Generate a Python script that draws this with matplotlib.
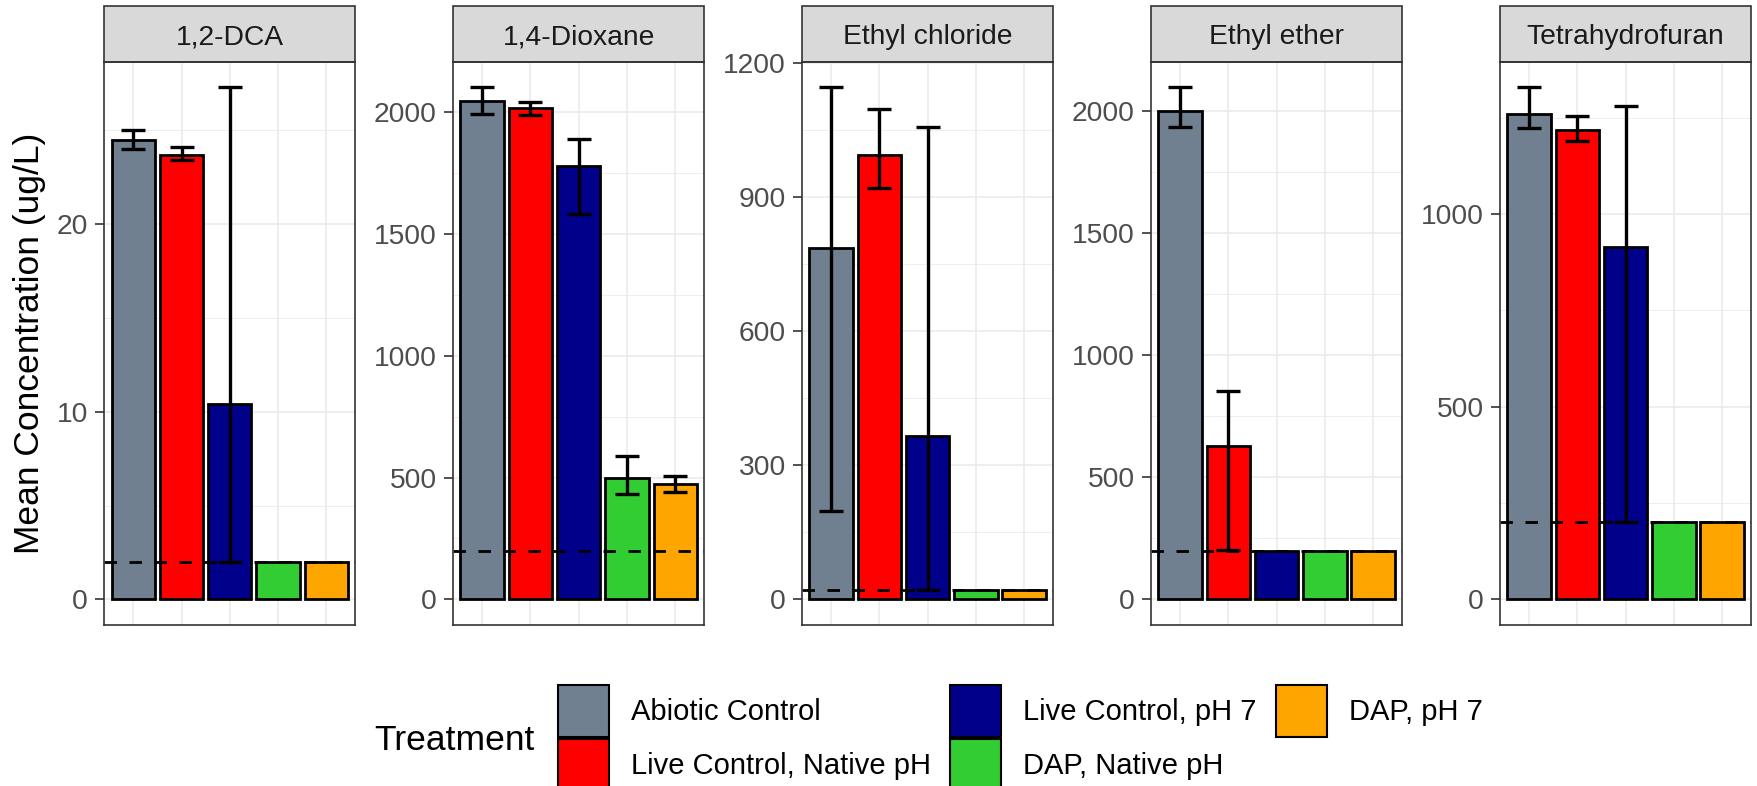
import numpy as np
import matplotlib.pyplot as plt
from matplotlib.patches import Patch, Rectangle
from matplotlib.ticker import MultipleLocator

plt.rcParams['font.family'] = ['Liberation Sans', 'DejaVu Sans']

# treatments (legend order) and fill colours
treatments = ['Abiotic Control', 'Live Control, Native pH', 'Live Control, pH 7',
              'DAP, Native pH', 'DAP, pH 7']
colors = ['#708090', '#FF0000', '#00008B', '#32CD32', '#FFA500']

compounds = ['1,2-DCA', '1,4-Dioxane', 'Ethyl chloride', 'Ethyl ether', 'Tetrahydrofuran']

# mean concentrations (ug/L), one list per compound, in treatment order
mean_dca = [24.5, 23.7, 10.4, 2.0, 2.0]
mean_dioxane = [2045, 2015, 1777, 498, 473]
mean_etcl = [786, 994, 365, 20, 20]
mean_ether = [2000, 626, 200, 200, 200]
mean_thf = [1260, 1219, 915, 200, 200]

# error bar ends (nan = no error bar)
low_dca = [24.0, 23.4, 2.0, np.nan, np.nan]
high_dca = [25.0, 24.1, 27.3, np.nan, np.nan]
low_dioxane = [1993, 1988, 1582, 433, 441]
high_dioxane = [2102, 2042, 1891, 587, 506]
low_etcl = [198, 921, 20, np.nan, np.nan]
high_etcl = [1146, 1097, 1057, np.nan, np.nan]
low_ether = [1935, 203, np.nan, np.nan, np.nan]
high_ether = [2097, 853, np.nan, np.nan, np.nan]
low_thf = [1224, 1188, 200, np.nan, np.nan]
high_thf = [1329, 1255, 1281, np.nan, np.nan]

# reporting limit drawn as dashed line
limits = [2, 200, 20, 200, 200]
major_step = [10, 500, 300, 500, 500]

means = [mean_dca, mean_dioxane, mean_etcl, mean_ether, mean_thf]
lows = [low_dca, low_dioxane, low_etcl, low_ether, low_thf]
highs = [high_dca, high_dioxane, high_etcl, high_ether, high_thf]

W, H = 1757, 786
fig, axes = plt.subplots(1, 5, figsize=(W / 100, H / 100), dpi=100)
top_px, bot_px = 61.5, 625
fig.subplots_adjust(left=104.3 / W, right=1751 / W, top=1 - top_px / H,
                    bottom=1 - bot_px / H, wspace=98 / 251)

strip_h = 55 / (bot_px - top_px)
x = np.arange(5)
for i, ax in enumerate(axes):
    m = np.array(means[i], dtype=float)
    lo = np.array(lows[i], dtype=float)
    hi = np.array(highs[i], dtype=float)

    ax.bar(x, m, width=0.9, color=colors, edgecolor='black', linewidth=2, zorder=2)
    ok = ~np.isnan(lo)
    ax.errorbar(x[ok], m[ok], yerr=[m[ok] - lo[ok], hi[ok] - m[ok]], fmt='none',
                ecolor='black', elinewidth=2.4, capsize=8.5, capthick=2.4, zorder=3)
    ax.axhline(limits[i], color='black', linewidth=2, linestyle=(0, (4.5, 4.5)), zorder=4)

    top = np.nanmax(np.concatenate([m, hi]))
    ax.set_ylim(-0.05 * top, 1.05 * top)
    ax.set_xlim(-0.6, 4.6)
    ax.set_xticks(x)
    ax.set_xticklabels([])
    ax.tick_params(axis='x', length=0)
    ax.yaxis.set_major_locator(MultipleLocator(major_step[i]))
    ax.yaxis.set_minor_locator(MultipleLocator(major_step[i] / 2))
    ax.tick_params(axis='y', which='major', labelsize=20.3, labelcolor='#4D4D4D',
                   color='#333333', length=6.2, width=1.2, pad=5.5)
    ax.tick_params(axis='y', which='minor', length=0)
    ax.grid(True, which='major', color='#EBEBEB', linewidth=1.2)
    ax.grid(True, which='minor', axis='y', color='#EBEBEB', linewidth=0.6)
    ax.set_axisbelow(True)
    for s in ax.spines.values():
        s.set_color('#333333')
        s.set_linewidth(1.2)
        s.set_zorder(5)

    # facet strip
    ax.add_patch(Rectangle((0, 1), 1, strip_h, transform=ax.transAxes,
                           facecolor='#D9D9D9', edgecolor='#333333', linewidth=1.2,
                           clip_on=False))
    ax.text(0.5, 1 + strip_h / 2, compounds[i], transform=ax.transAxes,
            ha='center', va='center_baseline', fontsize=20.3, color='#1A1A1A')

fig.text(30 / W, 1 - (top_px + bot_px) / 2 / H, 'Mean Concentration (ug/L)',
         rotation=90, ha='center', va='center', fontsize=25.5)

handles = [Patch(facecolor=c, edgecolor='black', linewidth=1.5) for c in colors]
fig.legend(handles, treatments, ncol=3, loc='upper left',
           bbox_to_anchor=(558 / W, 1 - 685 / H), frameon=False, fontsize=21,
           handlelength=1.75, handleheight=2.37, handletextpad=0.74,
           columnspacing=0.68, labelspacing=0.05, borderpad=0, borderaxespad=0)
fig.text(454 / W, 1 - 740 / H, 'Treatment', ha='center', va='center', fontsize=25.5)

fig.savefig('out.png', dpi=100)
